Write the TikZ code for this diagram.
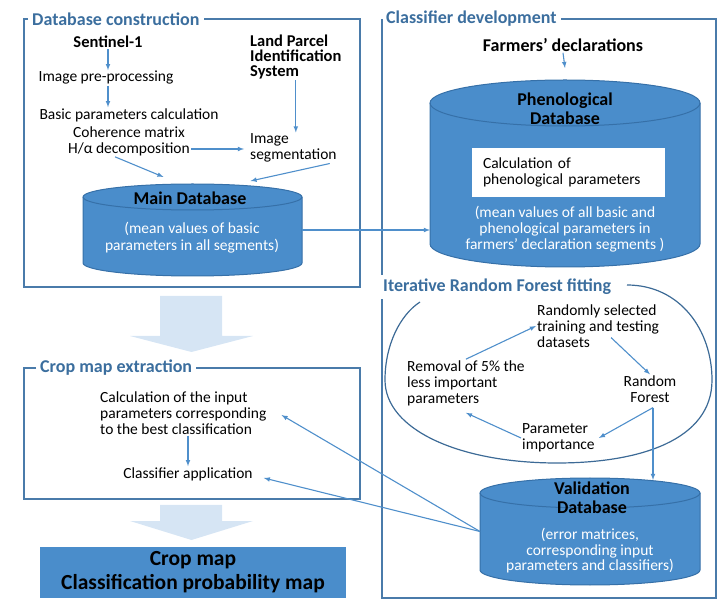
\documentclass[tikz,border=0pt]{standalone}
\usepackage{fontspec}
\setmainfont{Carlito}
\usetikzlibrary{positioning}

\definecolor{framecol}{HTML}{4A7BAA}
\definecolor{titlecol}{HTML}{3B6E9E}
\definecolor{dbfill}{HTML}{4A8DCB}
\definecolor{dbline}{HTML}{3670A8}
\definecolor{arrowcol}{HTML}{4F8FCB}
\definecolor{loopcol}{HTML}{3C6A96}
\definecolor{bigarrow}{HTML}{D6E5F4}

\tikzset{
  frame/.style={draw=framecol, line width=1.2pt},
  hdr/.style={text=titlecol, font=\bfseries\fontsize{18}{20}\selectfont, inner sep=4pt},
  txt/.style={font=\fontsize{15.5}{16}\selectfont, inner sep=1pt},
  btxt/.style={font=\bfseries\fontsize{16.5}{15}\selectfont, inner sep=1pt},
  dbtitle/.style={font=\bfseries\fontsize{18}{18.5}\selectfont, align=center, inner sep=1pt},
  dbtxt/.style={text=white, font=\fontsize{15.5}{16}\selectfont, align=center, inner sep=1pt},
  db/.style={draw=dbline, line width=1pt, fill=dbfill},
  arr/.style={->, draw=arrowcol, line width=1.1pt}
}

% database drum: name, centre x, centre y, x radius, half body height, y radius
\newcommand{\dbdrum}[6]{%
  \draw[db] ({#2-#4},{#3-#5}) -- ({#2-#4},{#3+#5})
    arc[start angle=180, end angle=360, x radius=#4pt, y radius=#6pt]
    -- ({#2+#4},{#3-#5})
    arc[start angle=0, end angle=180, x radius=#4pt, y radius=#6pt] -- cycle;
  \draw[db, fill=none] ({#2-#4},{#3-#5})
    arc[start angle=180, end angle=360, x radius=#4pt, y radius=#6pt];
  \node (#1) [minimum width=2*#4pt, minimum height=2*#5pt+2*#6pt, inner sep=0pt, outer sep=0pt] at (#2,#3) {};
}

\begin{document}
\begin{tikzpicture}[x=1pt, y=-1pt, >=latex, node distance=17pt]
\useasboundingbox (0,0) rectangle (726,609);

% big arrows between the steps
\fill[bigarrow] (160,296) -- (222,296) -- (222,336) -- (253,336) -- (191.5,352) -- (130,336) -- (160,336) -- cycle;
\fill[bigarrow] (160,505) -- (222,505) -- (222,521) -- (253,521) -- (191.5,540) -- (130,521) -- (160,521) -- cycle;

% database construction
\node (dbcons) [hdr, anchor=west] at (28,19) {Database construction};
\draw[frame] (dbcons.west) -- (24,19) -- (24,287) -- (360,287) -- (360,19) -- (dbcons.east);

\node (sentinel) [btxt] at (108,42) {Sentinel-1};
\node (preproc) [txt] at (106,78) {Image pre-processing};
\node (basic) [txt] at (129,115) {Basic parameters calculation};
\node (coher) [txt, below of=basic] {Coherence matrix};
\node (halpha) [txt, below of=coher] {H/α decomposition};
\node (lpis) [btxt, align=left, anchor=west] at (249,57) {Land Parcel\\Identification\\System};
\node (seg) [txt, align=left, anchor=west] at (249,148) {Image\\segmentation};

\dbdrum{maindb}{192.5}{230}{109.5}{33}{13}
\node (maintitle) [dbtitle] at (190,198) {Main Database};
\node (maintext) [dbtxt, font=\fontsize{15.5}{17}\selectfont] at (192,238) {(mean values of basic\\parameters in all segments)};

\draw[arr] (sentinel.south) -- (sentinel.south |- preproc.north);
\draw[arr] (sentinel.south |- preproc.south) -- (sentinel.south |- basic.north);
\draw[arr] (lpis.south) -- (lpis.south |- seg.north);
\draw[arr] (halpha.east) -- ([xshift=-5pt]halpha.east -| seg.west);
\draw[arr] ([xshift=-14pt]halpha.south) -- ([xshift=-29pt,yshift=7pt]maindb.north);
\draw[arr] ([xshift=-8pt]seg.south east) -- ([xshift=58pt,yshift=3pt]maindb.north);

% classifier development
\node (cldev) [hdr, anchor=west] at (382,19) {Classifier development};
\node (irf) [hdr, anchor=west, inner xsep=1pt] at (382,287) {Iterative Random Forest fitting};
\draw[frame] (cldev.west) -- (382,19) -- (irf.north west);
\draw[frame] (irf.south west) -- (382,598) -- (716,598) -- (716,19) -- (cldev.east);

\node (farmers) [btxt, font=\bfseries\fontsize{18}{18}\selectfont] at (563,45) {Farmers’ declarations};
\dbdrum{phendb}{565}{173.5}{135}{70.5}{23}
\node (phentitle) [dbtitle] at (565,109) {Phenological\\Database};
\node (calcbox) [txt, fill=white, align=left, text width=171pt, inner xsep=11pt, minimum height=49pt] at (568.5,172.5) {Calculation of\\phenological parameters};
\node (phentext) [dbtxt] at (565,229) {(mean values of all basic and\\phenological parameters in\\farmers’ declaration segments )};

\draw[arr] (farmers.south) -- ([yshift=12pt]phendb.north);
\draw[arr] (maindb.east) -- (maindb.east -| phendb.west);

% random forest loop
\draw[loopcol, line width=1.2pt] (627,285) .. controls (680,285) and (712,330) .. (712,380)
  .. controls (712,440) and (640,463) .. (557,463)
  .. controls (460,463) and (385,430) .. (385,380)
  .. controls (385,345) and (400,315) .. (420,302);

\node (randsel) [txt, align=left, anchor=west] at (536,326) {Randomly selected\\training and testing\\datasets};
\node (removal) [txt, align=left, anchor=west] at (406,383) {Removal of 5\% the\\less important\\parameters};
\node (forest) [txt, align=center] at (650,389) {Random\\Forest};
\node (importance) [txt, align=left, anchor=west] at (521,438) {Parameter\\importance};
\coordinate (fork) at ([xshift=3pt,yshift=-4pt]forest.south);

\draw[arr] (removal.north) -- (randsel.west);
\draw[arr] ([xshift=13pt,yshift=11pt]randsel.south) -- (forest.north);
\draw[arr] (fork) -- ([xshift=3pt]importance.east);
\draw[arr] (importance.west) -- ([yshift=-6pt]removal.south);

\dbdrum{validdb}{590}{531.5}{110}{38.5}{15}
\node (validtitle) [dbtitle, font=\bfseries\fontsize{18}{19}\selectfont] at (592,498) {Validation\\Database};
\node (validtext) [dbtxt, font=\fontsize{15.5}{15.5}\selectfont] at (590,551) {(error matrices,\\corresponding input\\parameters and classifiers)};
\draw[arr] (fork) -- ([yshift=-2pt]fork |- validdb.north);

% crop map extraction
\node (cmext) [hdr, anchor=west] at (36,368) {Crop map extraction};
\draw[frame] (cmext.west) -- (24,368) -- (24,499) -- (360,499) -- (360,368) -- (cmext.east);

\node (calc) [txt, align=left, anchor=west] at (99,413) {Calculation of the input\\parameters corresponding\\to the best classification};
\node (apply) [txt] at (188,474) {Classifier application};
\draw[arr] (apply.north |- calc.south) -- (apply.north);
\draw[arr] (validdb.west) -- ([xshift=14pt,yshift=-2pt]calc.east);
\draw[arr] (validdb.west) -- ([xshift=10pt,yshift=-4pt]apply.east);

\node (cropmap) [fill=dbfill, minimum width=306pt, minimum height=51pt, align=center, font=\bfseries\fontsize{21.5}{24}\selectfont] at (193,572.5) {Crop map\\Classification probability map};
\end{tikzpicture}
\end{document}
